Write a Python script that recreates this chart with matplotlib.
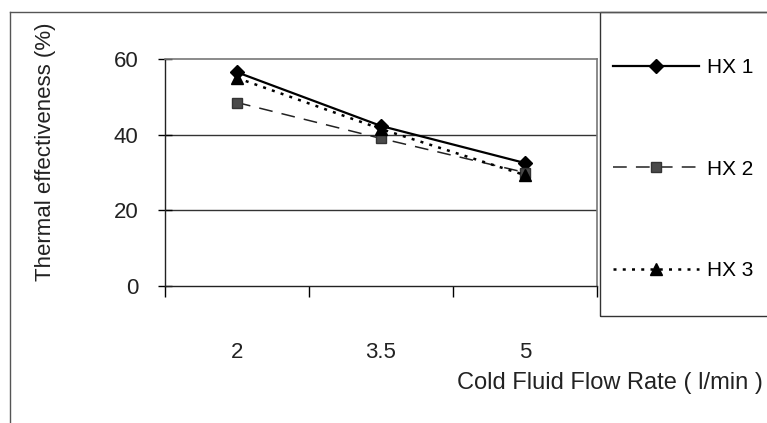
import matplotlib.pyplot as plt
from matplotlib.lines import Line2D
from matplotlib.patches import Rectangle

plt.rcParams['font.family'] = ['Liberation Sans', 'DejaVu Sans']

flow = ['2', '3.5', '5']
hx1 = [56.5, 42.3, 32.5]
hx2 = [48.5, 39.0, 30.0]
hx3 = [55.0, 41.5, 29.3]

fig = plt.figure(figsize=(7.67, 4.23), dpi=100)
ax = fig.add_axes([165/767, 1 - 286/423, (597 - 165)/767, (286 - 59)/423])

x = range(len(flow))
ax.plot(x, hx1, color='black', lw=1.6, marker='D', ms=7.5, mfc='black', mec='black', label='HX 1')
ax.plot(x, hx2, color='#222222', lw=1.1, ls=(0, (9, 6)), marker='s', ms=7.5, mfc='#4a4a4a', mec='#333333', label='HX 2')
ax.plot(x, hx3, color='black', lw=1.8, ls=(0, (1.2, 2.5)), marker='^', ms=9, mfc='black', mec='black', label='HX 3')

ax.set_xlim(-0.5, 2.5)
ax.set_ylim(0, 60)
ax.set_yticks([0, 20, 40, 60])
ax.set_xticks(list(x))
ax.set_xticklabels(flow)
ax.set_xticks([-0.5, 0.5, 1.5, 2.5], minor=True)
ax.tick_params(axis='x', which='major', length=0, pad=40, labelsize=16, labelcolor='#222222')
ax.tick_params(axis='x', which='minor', length=8, direction='out', width=1)
ax.tick_params(axis='y', length=10, direction='inout', width=1, pad=14, labelsize=16, labelcolor='#222222')

for v in [20, 40]:
    ax.axhline(v, color='#333333', lw=1.0, zorder=0)
for s in ['top', 'right']:
    ax.spines[s].set_linestyle((0, (2, 1)))
    ax.spines[s].set_color('#777777')
    ax.spines[s].set_linewidth(1.2)
for s in ['left', 'bottom']:
    ax.spines[s].set_color('#222222')
    ax.spines[s].set_linewidth(1.0)

ax.set_ylabel('Thermal effectiveness (%)', fontsize=16, color='#222222')
ax.yaxis.set_label_coords(-(165 - 56)/432, 0.59)

fig.text(457/767, 1 - 383/423, 'Cold Fluid Flow Rate ( l/min )', fontsize=17,
         ha='left', va='center', color='#222222')

# outer chart frame
fig.add_artist(Line2D([10/767, 10/767], [0, 1 - 12/423], color='#555555', lw=1.0))
fig.add_artist(Line2D([10/767, 1], [1 - 12/423, 1 - 12/423], color='#555555', lw=1.0))

# legend box
fig.add_artist(Rectangle((600/767, 1 - 316/423), 1.0, (316 - 12)/423, fill=False,
                         edgecolor='#333333', lw=1.0, transform=fig.transFigure))
fig.legend(loc='upper left', bbox_to_anchor=(607/767, 1 - 52/423), frameon=False,
           fontsize=15, handlelength=4.1, labelspacing=3.95, handletextpad=0.4,
           borderpad=0.3, borderaxespad=0)

fig.savefig('out.png', dpi=100)
